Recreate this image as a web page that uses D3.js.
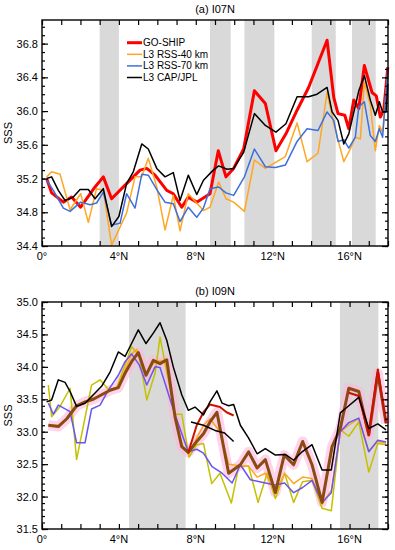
<!DOCTYPE html>
<html>
  <head>
    <meta charset="utf-8">
    <title>SSS along I07N and I09N</title>
    <script src="https://d3js.org/d3.v7.min.js"></script>
    <style>
      body { margin: 0; background: #fff; }
      svg { font-family: "Liberation Sans", Arial, sans-serif; }
      .line { fill: none; stroke-linejoin: round; }
    </style>
  </head>
  <body>
    <svg id="chart" width="395" height="550"></svg>
    <script>
      // ---- data (latitude in degrees N, SSS) ----
      // panel (a) I07N
      shadeA = [[3.0, 4.0], [8.74, 9.82], [10.53, 12.09], [14.03, 15.28], [16.13, 17.36]];
      goshipA = [[0.24,35.2],[0.5,35.03],[1.11,34.92],[1.54,34.98],[2.01,34.86],[2.76,35.1],[3.19,35.22],[3.62,34.96],[4.4,35.14],[5.1,35.3],[5.45,35.32],[5.88,35.24],[6.49,35.06],[6.83,35.02],[7.27,34.86],[7.61,34.98],[8.05,34.92],[8.74,35.02],[9.17,35.53],[9.57,35.22],[9.97,35.32],[10.49,35.55],[11.05,36.24],[11.62,36.09],[12.17,35.53],[12.69,35.73],[13.27,36.01],[13.87,36.28],[14.83,36.84],[15.18,36.16],[15.4,35.97],[15.75,35.95],[15.96,35.79],[16.22,36.13],[16.48,36.03],[16.77,36.54],[17.17,36.22],[17.39,36.18],[17.6,35.93],[17.78,36.01],[17.99,36.52]];
      rss40A = [[0.24,35.22],[0.5,35.28],[0.94,35.25],[1.46,34.83],[2.01,35.02],[2.41,34.68],[2.84,35.08],[3.19,35.06],[3.62,34.41],[4.4,34.79],[4.84,35.22],[5.19,35.22],[5.53,35.44],[5.97,35.1],[6.4,34.59],[6.83,35.0],[7.18,34.58],[7.61,35.02],[8.4,34.82],[8.74,34.86],[9.19,35.16],[9.57,34.96],[9.97,34.92],[10.53,34.81],[11.05,35.42],[11.62,35.32],[12.66,35.46],[13.27,35.86],[13.79,35.4],[14.36,35.5],[14.83,36.22],[15.18,35.85],[15.7,35.4],[16.04,35.55],[16.3,35.69],[16.56,35.67],[16.77,36.34],[17.08,36.07],[17.34,35.53],[17.55,35.83],[17.72,35.75],[17.99,36.44]];
      rss70A = [[0.24,35.18],[0.59,35.06],[1.11,34.85],[1.46,34.81],[2.01,34.92],[2.5,34.89],[2.84,34.91],[3.19,35.04],[3.62,34.65],[4.06,34.67],[4.4,35.02],[4.84,34.85],[5.19,35.25],[5.53,35.24],[6.05,35.04],[6.4,34.92],[6.83,34.9],[7.18,34.69],[7.61,34.86],[8.05,34.74],[8.4,34.85],[8.74,35.08],[9.19,35.1],[9.57,35.03],[9.97,35.0],[10.53,35.22],[11.05,35.55],[11.62,35.34],[12.14,35.33],[12.66,35.36],[13.27,35.64],[13.79,35.79],[14.36,35.77],[14.83,35.99],[15.18,35.89],[15.4,35.64],[15.7,35.66],[15.96,35.56],[16.3,35.69],[16.48,36.05],[16.77,36.11],[17.08,35.71],[17.34,35.64],[17.55,35.79],[17.72,35.69],[17.99,36.5]];
      capA = [[0.24,35.2],[0.5,35.22],[0.85,35.06],[1.2,34.94],[1.63,34.98],[1.98,35.07],[2.41,35.07],[2.76,34.96],[3.19,35.08],[3.62,34.63],[4.0,34.75],[4.4,35.14],[4.75,35.28],[5.19,35.61],[5.53,35.55],[5.97,35.32],[6.4,35.22],[6.83,35.27],[7.18,34.94],[7.61,35.24],[8.05,35.01],[8.4,35.18],[8.91,35.3],[9.19,35.35],[9.63,35.31],[9.97,35.32],[10.49,35.51],[11.05,35.97],[11.62,35.83],[12.17,35.75],[12.69,35.85],[13.27,36.17],[13.87,36.17],[14.31,36.2],[14.83,36.28],[15.09,35.99],[15.4,35.89],[15.7,35.61],[15.96,35.73],[16.48,36.24],[16.77,36.42],[17.08,36.13],[17.34,35.95],[17.55,36.11],[17.72,35.99],[17.9,35.99],[17.99,36.32]];

      // panel (b) I09N
      shadeB = [[4.53, 7.47], [15.5, 17.5]];
      goshipB = [[0.33,33.1],[0.85,33.08],[1.29,33.2],[1.8,33.4],[2.24,33.46],[2.67,33.5],[3.1,33.57],[3.54,33.64],[3.97,33.68],[4.32,33.9],[4.66,34.08],[5.01,34.22],[5.41,33.87],[5.79,34.1],[6.14,34.05],[6.49,34.11],[6.92,33.23],[7.27,32.77],[7.61,32.68],[8.05,32.85],[8.4,32.97],[8.74,33.15],[9.1,33.3],[9.71,32.36],[10.32,32.49],[10.75,32.69],[11.19,32.44],[11.62,32.57],[12.14,32.06],[12.6,32.64],[13.09,32.49],[13.56,32.85],[14.05,32.49],[14.57,31.91],[15.09,32.77],[15.52,33.05],[15.96,33.67],[16.48,33.62],[17.0,32.95],[17.47,33.9],[17.9,33.13]];
      redB = [[7.61,32.68],[8.05,33.1],[8.4,33.3],[8.74,33.42],[9.26,33.38],[9.6,33.3],[9.97,33.25],null,[15.96,33.6],[16.48,33.55],[17.0,32.95],[17.47,33.96],[17.9,33.13]];
      rss40B = [[0.33,33.72],[0.5,33.23],[0.94,33.39],[1.46,33.67],[1.8,32.57],[2.58,33.72],[3.02,33.8],[3.45,33.65],[3.89,33.68],[4.32,34.03],[4.66,34.31],[5.06,34.17],[5.45,33.49],[5.88,33.9],[6.14,34.46],[6.47,33.95],[6.92,33.27],[7.27,33.27],[7.65,32.61],[8.05,32.8],[8.4,32.82],[8.83,32.2],[9.26,32.36],[9.85,31.9],[10.23,32.46],[10.75,32.47],[11.24,31.91],[11.71,32.36],[12.14,31.97],[12.62,32.36],[13.09,31.91],[13.56,32.23],[14.05,32.25],[14.57,31.82],[15.05,31.78],[15.52,33.03],[15.96,32.93],[16.48,33.15],[17.0,32.38],[17.47,32.82],[17.9,32.8]];
      orangeB = [[0.33,33.1],[0.85,33.1],[1.29,33.2],[1.8,33.38],[2.24,33.45],[2.67,33.52],[3.1,33.56],[3.54,33.63],[3.97,33.7],[4.32,33.95],[4.66,34.2],[4.92,34.27],[5.41,33.9],[5.79,34.05],[6.14,34.1],[6.49,34.05],[6.92,33.2],[7.27,32.8],[7.61,32.65],[8.05,32.9],[8.4,33.1],[8.74,33.2],[9.26,33.0],[9.71,32.5],[10.32,32.47],[10.75,32.47],[11.19,32.3],[11.62,32.36],[12.14,32.05],[12.62,32.36],[13.09,32.2],[13.56,32.3],[14.05,32.28],[14.57,31.88],[15.05,32.1],[15.52,33.0],[15.96,33.1],[16.48,33.2],[17.0,32.7],[17.47,32.85],[17.9,32.82]];
      rss70B = [[0.33,33.44],[0.59,33.27],[0.85,33.41],[1.46,33.31],[1.8,32.83],[2.24,32.83],[2.58,33.35],[3.02,33.41],[3.45,33.64],[3.97,33.87],[4.32,34.08],[4.66,34.2],[5.06,34.03],[5.45,33.72],[5.88,34.0],[6.14,33.99],[6.92,33.26],[7.61,32.69],[8.05,32.73],[8.4,32.67],[8.85,32.46],[9.37,32.36],[9.89,32.21],[10.32,32.49],[10.84,32.26],[11.62,32.21],[12.14,32.18],[12.62,32.21],[13.09,32.06],[13.56,32.14],[14.05,32.25],[14.57,31.91],[15.05,32.06],[15.52,33.0],[15.96,33.14],[16.48,33.21],[17.0,32.69],[17.47,32.87],[17.9,32.84]];
      capB = [[0.24,33.46],[0.5,33.49],[0.85,33.8],[1.2,33.76],[1.46,33.62],[1.8,33.39],[2.24,33.44],[2.67,33.57],[3.1,33.7],[3.54,33.92],[3.97,34.23],[4.32,34.16],[4.66,34.36],[5.01,34.57],[5.41,34.36],[5.79,34.52],[6.14,34.68],[6.49,34.41],[6.83,34.0],[7.27,33.57],[7.61,33.33],[7.96,33.38],[8.4,33.26],[8.74,33.46],[9.1,33.63],[9.37,33.44],[9.71,33.4],[9.97,33.42],[10.32,33.1],[10.75,32.9],[11.19,32.66],[11.62,32.74],[12.14,32.64],[12.66,32.65],[13.09,32.56],[13.53,32.69],[14.05,32.8],[14.57,32.41],[15.05,32.41],[15.52,33.29],[15.96,33.4],[16.48,33.53],[17.0,33.05],[17.47,33.12],[17.9,33.03]];
      capB2 = [[7.75,33.15],[8.4,33.1],[9.0,33.02],[9.5,32.98],[9.97,32.85]];

      xTicks = [0, 4, 8, 12, 16];
      xTickLabels = ["0\u00b0", "4\u00b0N", "8\u00b0N", "12\u00b0N", "16\u00b0N"];
      yTicksA = [34.4, 34.8, 35.2, 35.6, 36.0, 36.4, 36.8];
      yTicksB = [31.5, 32.0, 32.5, 33.0, 33.5, 34.0, 34.5, 35.0];
      legendNames = ["GO-SHIP", "L3 RSS-40 km", "L3 RSS-70 km", "L3 CAP/JPL"];
      legendColors = ["#ff0000", "#ffa623", "#3d6fdc", "#000000"];

      svg = d3.select("#chart");
      margin = { left: 42, right: 388 };

      function panel(opt) {
        let x = d3.scaleLinear().domain([0, 18]).range([margin.left, margin.right]);
        let y = d3.scaleLinear().domain(opt.yDomain).range([opt.bottom, opt.top]);
        let g = svg.append("g");
        let line = d3.line()
          .defined(function(d) { return d != null; })
          .x(function(d) { return x(d[0]); })
          .y(function(d) { return y(d[1]); });
        // grey bands
        g.selectAll("rect.shade")
          .data(opt.shade)
          .join("rect")
          .attr("class", "shade")
          .attr("x", function(d) { return x(d[0]); })
          .attr("width", function(d) { return x(d[1]) - x(d[0]); })
          .attr("y", opt.top)
          .attr("height", opt.bottom - opt.top)
          .attr("fill", "#d9d9d9");
        // series
        opt.series.forEach(function(s) {
          g.append("path")
            .datum(s.data)
            .attr("class", "line")
            .attr("d", line)
            .attr("stroke", s.color)
            .attr("stroke-width", s.width)
            .attr("stroke-opacity", s.opacity || 1);
        });
        // axes: ticks inside on all four sides
        let minorY = d3.range(opt.yDomain[0], opt.yDomain[1] + 0.001, 0.1);
        let xMinor = d3.range(0, 19, 1);
        g.append("g")
          .attr("transform", "translate(0," + opt.bottom + ")")
          .call(d3.axisBottom(x).tickValues(xMinor).tickSize(-5).tickFormat(""));
        g.append("g")
          .attr("transform", "translate(0," + opt.top + ")")
          .call(d3.axisTop(x).tickValues(xMinor).tickSize(-5).tickFormat(""));
        g.append("g")
          .attr("transform", "translate(" + margin.left + ",0)")
          .call(d3.axisLeft(y).tickValues(minorY).tickSize(-3).tickFormat(""));
        g.append("g")
          .attr("transform", "translate(" + margin.left + ",0)")
          .call(d3.axisLeft(y).tickValues(opt.yTicks).tickSize(-6).tickPadding(4)
            .tickFormat(d3.format(".1f")));
        g.append("g")
          .attr("transform", "translate(" + margin.right + ",0)")
          .call(d3.axisRight(y).tickValues(minorY).tickSize(-3).tickFormat(""));
        g.append("g")
          .attr("transform", "translate(" + margin.right + ",0)")
          .call(d3.axisRight(y).tickValues(opt.yTicks).tickSize(-6).tickFormat(""));
        g.selectAll(".domain").remove();
        g.selectAll(".tick line").attr("stroke", "#000").attr("stroke-width", 1.2);
        g.selectAll(".tick text").attr("font-size", 11).attr("fill", "#000")
          .attr("font-family", "Liberation Sans, Arial, sans-serif");
        // x labels
        g.selectAll("text.xlab")
          .data(xTicks)
          .join("text")
          .attr("class", "xlab")
          .attr("x", function(d) { return x(d); })
          .attr("y", opt.bottom + 14)
          .attr("text-anchor", "middle")
          .attr("font-size", 11)
          .text(function(d, i) { return xTickLabels[i]; });
        // frame
        g.append("rect")
          .attr("x", margin.left)
          .attr("y", opt.top)
          .attr("width", margin.right - margin.left)
          .attr("height", opt.bottom - opt.top)
          .attr("fill", "none")
          .attr("stroke", "#000")
          .attr("stroke-width", 1.4);
        // title and y label
        g.append("text")
          .attr("x", 215)
          .attr("y", opt.top - 7)
          .attr("text-anchor", "middle")
          .attr("font-size", 11)
          .text(opt.title);
        g.append("text")
          .attr("transform", "translate(12," + ((opt.top + opt.bottom) / 2) + ") rotate(-90)")
          .attr("text-anchor", "middle")
          .attr("font-size", 11)
          .text("SSS");
        return g;
      }

      gA = panel({
        top: 20, bottom: 246, yDomain: [34.4, 37.08], yTicks: yTicksA,
        shade: shadeA, title: "(a) I07N",
        series: [
          { data: goshipA, color: legendColors[0], width: 3 },
          { data: rss40A, color: legendColors[1], width: 1.5 },
          { data: rss70A, color: legendColors[2], width: 1.5 },
          { data: capA, color: legendColors[3], width: 1.5 }
        ]
      });

      // legend
      legend = gA.append("g");
      legend.selectAll("line")
        .data(legendNames)
        .join("line")
        .attr("x1", 127).attr("x2", 142)
        .attr("y1", function(d, i) { return 42.7 + i * 11.6; })
        .attr("y2", function(d, i) { return 42.7 + i * 11.6; })
        .attr("stroke", function(d, i) { return legendColors[i]; })
        .attr("stroke-width", function(d, i) { return i == 0 ? 3 : 1.5; });
      legend.selectAll("text")
        .data(legendNames)
        .join("text")
        .attr("x", 143)
        .attr("y", function(d, i) { return 46.2 + i * 11.6; })
        .attr("font-size", 10)
        .text(function(d) { return d; });

      panel({
        top: 302, bottom: 529, yDomain: [31.5, 35.0], yTicks: yTicksB,
        shade: shadeB, title: "(b) I09N",
        series: [
          { data: goshipB, color: "#ffb6dd", width: 10, opacity: 0.6 },
          { data: rss40B, color: "#c5c000", width: 1.5 },
          { data: orangeB, color: "#ffa623", width: 1.5 },
          { data: rss70B, color: "#6a55f0", width: 1.5 },
          { data: goshipB, color: "#8a4a12", width: 3 },
          { data: redB, color: "#cc1100", width: 2 },
          { data: capB, color: "#000000", width: 1.5 },
          { data: capB2, color: "#000000", width: 1.5 }
        ]
      });
    </script>
  </body>
</html>
